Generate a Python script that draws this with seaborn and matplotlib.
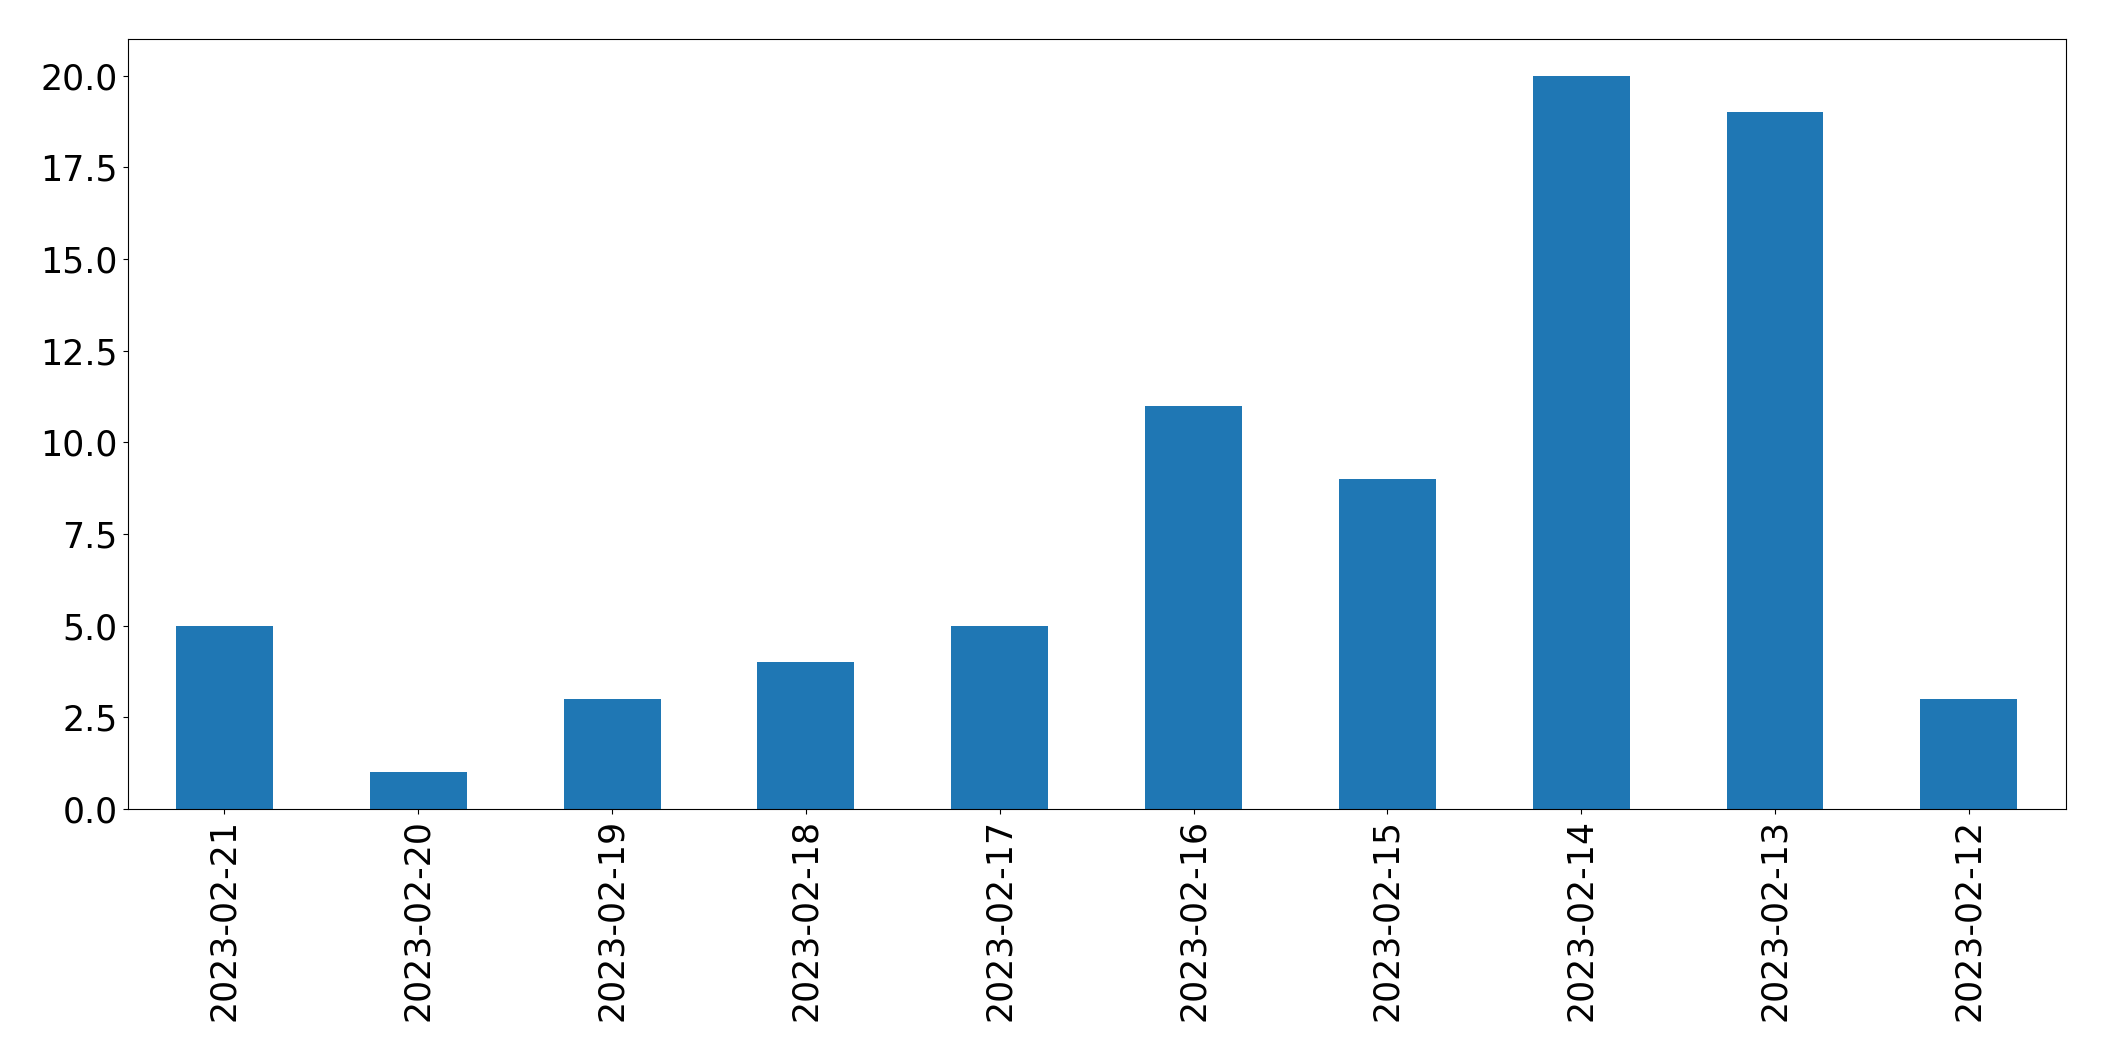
import pandas as pd
import matplotlib
matplotlib.use("Agg")
import matplotlib.pyplot as plt
import seaborn as sns

dates = ["2023-02-21", "2023-02-20", "2023-02-19", "2023-02-18", "2023-02-17",
         "2023-02-16", "2023-02-15", "2023-02-14", "2023-02-13", "2023-02-12"]
counts = [5, 1, 3, 4, 5, 11, 9, 20, 19, 3]

df = pd.DataFrame({"date": dates, "count": counts})

fig, ax = plt.subplots(figsize=(21.04, 10.61), dpi=100)
sns.barplot(data=df, x="date", y="count", color="#1f77b4", saturation=1,
            width=0.5, order=dates, linewidth=0, ax=ax)

ax.set_xlim(-0.5, len(dates) - 0.5)
ax.set_ylim(0, max(counts) * 1.05)
ax.set_xlabel("")
ax.set_ylabel("")
ax.tick_params(axis="both", labelsize=25)
ax.tick_params(axis="x", labelrotation=90)

fig.subplots_adjust(left=0.0606, right=0.9818, top=0.9632, bottom=0.2375)
fig.savefig("out.png", dpi=100)
